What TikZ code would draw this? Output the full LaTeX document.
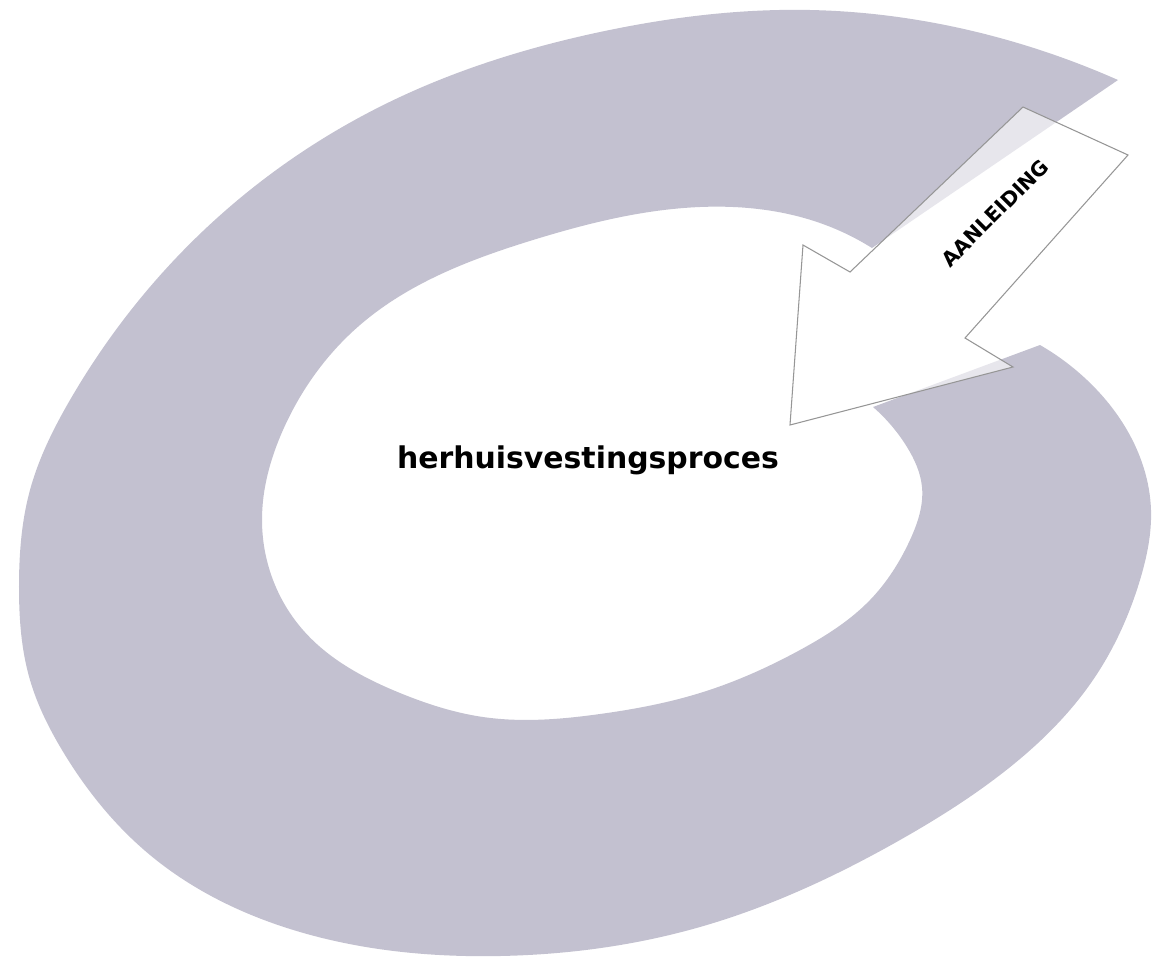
\documentclass[tikz,border=0pt]{standalone}
\usepackage{fontspec}
\usetikzlibrary{hobby}
\newfontfamily\schemafont{DejaVu Sans}
\definecolor{ringkleur}{RGB}{195,193,208}
\definecolor{pijlrand}{RGB}{150,150,150}
\tikzset{
  ring/.style={fill=ringkleur},
  pijl/.style={draw=pijlrand, line width=0.3pt, fill=white, fill opacity=0.6},
  titel/.style={font=\schemafont\bfseries\fontsize{8.5}{10}\selectfont, inner sep=0pt},
  pijltekst/.style={font=\schemafont\bfseries\fontsize{5.8}{7}\selectfont, rotate=45, inner sep=0pt}
}
\begin{document}
\begin{tikzpicture}[x=0.01cm,y=-0.01cm]
	\useasboundingbox (0,0) rectangle (1154,957);

	% open ring
	\fill[ring] (1118,80)
		to[curve through={(1000,38) (810,10) (600,32) (400,97) (250,190)
			(135,305) (70,400) (30,490) (19,587) (30,680) (62,750) (150,855)
			(300,932) (500,956) (700,927) (900,840) (1000,775) (1093,680)
			(1140,580) (1151,510) (1127,430) (1087,380)}] (1040,345)
		-- (873,407)
		to[curve through={(907,447) (922,487) (910,540) (870,600) (800,650)
			(700,693) (600,714) (483,717) (400,693) (303,630) (262,520)
			(283,430) (360,325) (533,240) (700,207) (820,223)}] (872,248)
		-- cycle;

	% arrow
	\coordinate (s1) at (1023,107);
	\coordinate (s2) at (1128,155);
	\coordinate (k1) at (965,338);
	\coordinate (k2) at (1013,367);
	\coordinate (punt) at (790,425);
	\coordinate (k3) at (803,245);
	\coordinate (k4) at (850,272);
	\draw[pijl] (s1) -- (s2) -- (k1) -- (k2) -- (punt) -- (k3) -- (k4) -- cycle;

	\node (aanleiding) at (995,213) [pijltekst] {AANLEIDING};
	\node (titel) at (588,468) [titel, anchor=base] {herhuisvestingsproces};
\end{tikzpicture}
\end{document}
